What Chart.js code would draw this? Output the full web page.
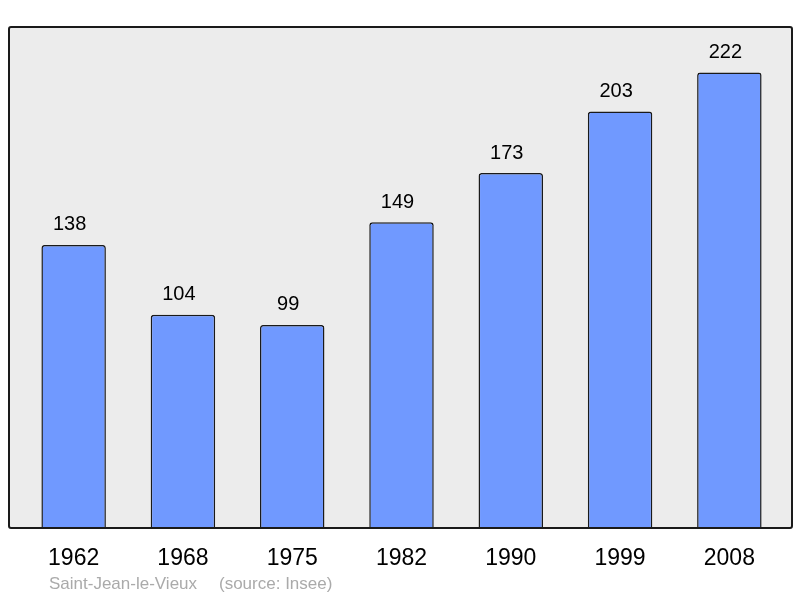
<!DOCTYPE html>
<html>
<head>
<meta charset="utf-8">
<title>Saint-Jean-le-Vieux</title>
<script src="https://cdn.jsdelivr.net/npm/chart.js@4/dist/chart.umd.min.js"></script>
<style>
    html, body { margin: 0; padding: 0; background: #ffffff; }
    #wrap { width: 800px; height: 598px; position: relative; }
</style>
</head>
<body>
<div id="wrap"><canvas id="popChart"></canvas></div>
<script>
// Population data
const years = ['1962', '1968', '1975', '1982', '1990', '1999', '2008'];
const population = [138, 104, 99, 149, 173, 203, 222];
const yMax = 244.2;
const townName = 'Saint-Jean-le-Vieux';
const sourceText = '(source: Insee)';

// Grey box behind the bars, with dark border
const boxPlugin = {
    id: 'box',
    beforeDatasetsDraw(chart) {
        const { ctx, chartArea } = chart;
        ctx.save();
        ctx.fillStyle = '#ececec';
        ctx.fillRect(chartArea.left - 10, chartArea.top, chartArea.right - chartArea.left + 18, chartArea.bottom - chartArea.top);
        ctx.restore();
    },
    afterDatasetsDraw(chart) {
        const { ctx, chartArea } = chart;
        ctx.save();
        ctx.strokeStyle = '#1a1a1a';
        ctx.lineWidth = 2;
        ctx.beginPath();
        ctx.roundRect(chartArea.left - 10, chartArea.top, chartArea.right - chartArea.left + 18, chartArea.bottom - chartArea.top, 2);
        ctx.stroke();

        // value labels above bars
        const meta = chart.getDatasetMeta(0);
        ctx.fillStyle = '#000000';
        ctx.font = '20px "Liberation Sans", Arial, sans-serif';
        ctx.textAlign = 'center';
        ctx.textBaseline = 'middle';
        meta.data.forEach((bar, i) => {
            ctx.fillText(String(population[i]), bar.x - 4, bar.y - 20);
        });

        // footer
        ctx.fillStyle = '#aaaaaa';
        ctx.font = '17px "Liberation Sans", Arial, sans-serif';
        ctx.textAlign = 'left';
        ctx.fillText(townName, 49, 584);
        ctx.fillText(sourceText, 219, 584);
        ctx.restore();
    }
};

const ctx = document.getElementById('popChart');
new Chart(ctx, {
    type: 'bar',
    data: {
        labels: years,
        datasets: [{
            data: population,
            backgroundColor: '#7099ff',
            borderColor: '#1a1a1a',
            borderWidth: 1.5,
            borderRadius: 3,
            borderSkipped: 'bottom',
            barPercentage: 0.59,
            categoryPercentage: 1
        }]
    },
    options: {
        responsive: true,
        maintainAspectRatio: false,
        animation: false,
        layout: {
            padding: { left: 19, right: 16, top: 27, bottom: 0 }
        },
        plugins: {
            legend: { display: false },
            tooltip: { enabled: false }
        },
        scales: {
            y: {
                display: false,
                min: 0,
                max: yMax
            },
            x: {
                grid: { display: false, drawTicks: false },
                border: { display: false },
                ticks: {
                    color: '#000000',
                    padding: 17,
                    font: { family: '"Liberation Sans", Arial, sans-serif', size: 23 }
                },
                afterFit(scale) {
                    scale.height = 70;
                }
            }
        }
    },
    plugins: [boxPlugin]
});
</script>
</body>
</html>
